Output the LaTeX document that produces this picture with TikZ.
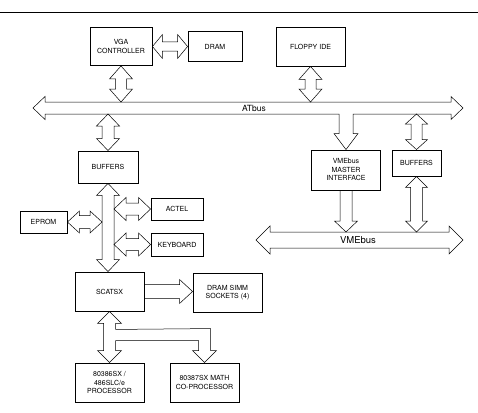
\documentclass[tikz,border=0pt]{standalone}
\usepackage{fontspec}
\setmainfont{TeX Gyre Heros}
\usepackage{tikz}
\usetikzlibrary{calc}
% block arrows: #1 first tip, #2 second tip, #3 head half width, #4 shaft half width, #5 head length
\newcommand{\vDouble}[5]{%
  \draw[barrow] (#1) -- ($(#1)+(#3,#5)$) -- ($(#1)+(#4,#5)$) -- ($(#2)+(#4,-#5)$)
    -- ($(#2)+(#3,-#5)$) -- (#2) -- ($(#2)+(-#3,-#5)$) -- ($(#2)+(-#4,-#5)$)
    -- ($(#1)+(-#4,#5)$) -- ($(#1)+(-#3,#5)$) -- cycle;}
\newcommand{\hDouble}[5]{%
  \draw[barrow] (#1) -- ($(#1)+(#5,-#3)$) -- ($(#1)+(#5,-#4)$) -- ($(#2)+(-#5,-#4)$)
    -- ($(#2)+(-#5,-#3)$) -- (#2) -- ($(#2)+(-#5,#3)$) -- ($(#2)+(-#5,#4)$)
    -- ($(#1)+(#5,#4)$) -- ($(#1)+(#5,#3)$) -- cycle;}
\newcommand{\vSingle}[5]{%
  \draw[barrow] ($(#1)+(-#4,0)$) -- ($(#1)+(#4,0)$) -- ($(#2)+(#4,-#5)$) -- ($(#2)+(#3,-#5)$)
    -- (#2) -- ($(#2)+(-#3,-#5)$) -- ($(#2)+(-#4,-#5)$) -- cycle;}
\newcommand{\hSingle}[5]{%
  \draw[barrow] ($(#1)+(0,-#4)$) -- ($(#2)+(-#5,-#4)$) -- ($(#2)+(-#5,-#3)$) -- (#2)
    -- ($(#2)+(-#5,#3)$) -- ($(#2)+(-#5,#4)$) -- ($(#1)+(0,#4)$) -- cycle;}

\begin{document}
\begin{tikzpicture}[x=1pt, y=-1pt]
  \tikzset{box/.style={draw, line width=0.9pt, align=center, inner sep=0pt,
      font=\fontsize{7}{8.5}\selectfont},
    barrow/.style={draw, line width=0.5pt, line join=miter},
    buslabel/.style={inner sep=0pt}}
  \useasboundingbox (0,0) rectangle (478,412);
  \draw[line width=0.7pt] (0,12) -- (478,12);

  \node[box, minimum width=62, minimum height=38] (vga) at (121,46.5) {VGA\\CONTROLLER};
  \node[box, minimum width=54, minimum height=30] (dram) at (215,46.5) {DRAM};
  \node[box, minimum width=69, minimum height=39] (floppy) at (310.5,46.5) {FLOPPY IDE};
  \node[box, minimum width=60, minimum height=32] (bufL) at (108,167) {BUFFERS};
  \node[box, minimum width=47, minimum height=22] (eprom) at (43.5,222) {EPROM};
  \node[box, minimum width=52, minimum height=22] (actel) at (177,209) {ACTEL};
  \node[box, minimum width=52, minimum height=23] (kbd) at (177,244.5) {KEYBOARD};
  \node[box, minimum width=69, minimum height=39] (scatsx) at (109.5,291.5) {SCATSX};
  \node[box, minimum width=69, minimum height=39] (simm) at (227.5,292.5) {DRAM SIMM\\SOCKETS (4)};
  \node[box, minimum width=69, minimum height=39] (proc) at (109.5,382.5) {80386SX /\\486SLC/e\\PROCESSOR};
  \node[box, minimum width=69, minimum height=39] (copro) at (204.5,382.5) {80387SX MATH\\CO-PROCESSOR};
  \node[box, minimum width=69, minimum height=40] (vme) at (346,170) {VMEbus\\MASTER\\INTERFACE};
  \node[box, minimum width=49, minimum height=26] (bufR) at (416.5,163) {BUFFERS};

  \coordinate (atL) at (33,108);
  \coordinate (atR) at (463,108);
  \coordinate (atTop) at (0,102);
  \coordinate (atBot) at (0,114);
  \coordinate (vmeL) at (256,240);
  \coordinate (vmeR) at (463,240);
  \coordinate (vmeTop) at (0,232);

  % ATbus with the branch down to the VME master
  \draw[barrow] (atL) -- ++(12,-11.5) -- ++(0,5.5) -- ($(atR)+(-12,-6)$) -- ++(0,-5.5)
    -- (atR) -- ++(-12,11.5) -- ++(0,-5.5) -- ($(vme.north |- atL)+(7,6)$)
    -- ($(vme.north)+(7,-16)$) -- ++(5,0) -- (vme.north) -- ++(-12,-16) -- ++(5,0)
    -- ($(vme.north |- atL)+(-7,6)$) -- ($(atL)+(12,6)$) -- ++(0,5.5) -- cycle;
  \node[buslabel, font=\fontsize{8.5}{9}\selectfont] (atbus) at (254,108.5) {ATbus};

  \hDouble{vmeL}{vmeR}{14}{8}{14}
  \node[buslabel, font=\fontsize{9.5}{10}\selectfont] (vmebus) at (358,240) {VMEbus};

  \hDouble{vga.east}{vga.east -| dram.west}{12}{4.5}{10}
  \vDouble{vga.south}{vga.south |- atTop}{11.5}{5.5}{13}
  \vDouble{floppy.south}{floppy.south |- atTop}{11.5}{5.5}{13}
  \vDouble{bufL.north |- atBot}{bufL.north}{11.5}{6}{12}
  \vDouble{bufR.north |- atBot}{bufR.north}{11}{5.5}{10}
  \vDouble{bufR.south}{bufR.south |- vmeTop}{11}{6}{11}
  \vSingle{vme.south}{vme.south |- vmeTop}{11.5}{6}{11}

  \vDouble{bufL.south}{bufL.south |- scatsx.north}{11.5}{6}{12}
  \hDouble{eprom.east}{$(eprom.east -| bufL.south)+(-6,0)$}{11}{6.5}{12}
  \hDouble{$(actel.west -| bufL.south)+(6,0)$}{actel.west}{11.5}{6}{12}
  \hDouble{$(kbd.west -| bufL.south)+(6,0)$}{kbd.west}{11.5}{6}{12}
  \hSingle{scatsx.east}{scatsx.east -| simm.west}{12}{7}{13}

  % SCATSX to both processors
  \draw[barrow] (scatsx.south) -- ++(12,12) -- ++(-6,0) -- ++(0,6)
    -- ($(copro.north)+(6,-34)$) -- ($(copro.north)+(6,-12)$) -- ++(6,0) -- (copro.north)
    -- ++(-12,-12) -- ++(6,0) -- ($(copro.north)+(-6,-22)$)
    -- ($(scatsx.south |- copro.north)+(6,-22)$) -- ($(scatsx.south |- proc.north)+(6,-12)$)
    -- ++(6,0) -- (scatsx.south |- proc.north) -- ++(-12,-12) -- ++(6,0)
    -- ($(scatsx.south)+(-6,12)$) -- ++(-6,0) -- cycle;
\end{tikzpicture}
\end{document}
